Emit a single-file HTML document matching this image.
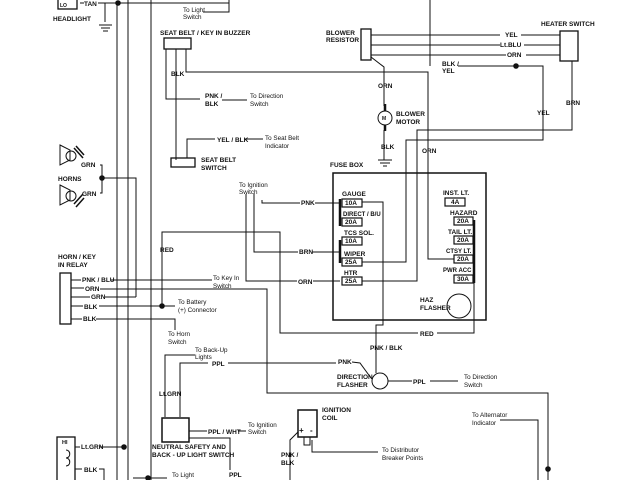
<!DOCTYPE html>
<html><head><meta charset="utf-8"><style>
html,body{margin:0;padding:0;background:#fff;width:640px;height:480px;overflow:hidden}
svg{display:block}
text{font-family:"Liberation Sans",sans-serif;font-size:6.5px;font-weight:bold;fill:#111}
.t{font-weight:normal;font-size:6.3px}
</style></head><body>
<svg width="640" height="480" viewBox="0 0 640 480" xmlns="http://www.w3.org/2000/svg">
<g stroke="#111" stroke-width="1" fill="none">
<rect x="58" y="-4" width="19" height="13" stroke-width="1.3"/>
<path d="M80 3H84M98 3H229V-1"/>
<path d="M203 12H229V0"/>
<path d="M105 3V22"/>
<path d="M99 25H112M101 28H110M103 31H108"/>
<path d="M117 3V480M128 0V480M151 0V480"/>
<path d="M102 178H136V297"/>
<path d="M60 145L70 150V160L60 165Z M60 185L70 190V200L60 205Z"/>
<circle cx="71" cy="156" r="5"/><circle cx="71" cy="196" r="5"/>
<path d="M74 148L83 158M76 146L84 155M74 204L83 194M76 207L84 198" stroke-width="1.5"/>
<path d="M100 165H102V193H100"/>
<rect x="164" y="38" width="27" height="11" stroke-width="1.3"/>
<path d="M166 49V99H200M176 49V160M186 49V72H428V259H454"/>
<path d="M222 100H247"/>
<rect x="171" y="158" width="24" height="9" stroke-width="1.3"/>
<path d="M187 158V139H215M245 139H263"/>
<rect x="361" y="29" width="10" height="31" stroke-width="1.3"/>
<path d="M371 35H500M521 35H560M371 45H500M524 45H560M371 55H506M526 55H560"/>
<rect x="560" y="31" width="18" height="30" stroke-width="1.3"/>
<path d="M371 57L384 67V106M384 130V160"/>
<circle cx="385" cy="118" r="7"/>
<path d="M385 104V111M385 125V131" stroke-width="2.5"/>
<path d="M378 160H392M380 163H390M383 166H387"/>
<path d="M430 0V66M458 66H543V140H406V262H362"/>
<path d="M572 61V130H417V281H362"/>
<rect x="333" y="173" width="153" height="147" stroke-width="1.5"/>
<g stroke-width="1.2">
<rect x="342" y="199" width="20" height="8"/><rect x="342" y="218" width="20" height="8"/>
<rect x="342" y="237" width="20" height="8"/><rect x="342" y="258" width="20" height="8"/>
<rect x="342" y="277" width="20" height="8"/>
<rect x="445" y="198" width="20" height="8"/><rect x="454" y="217" width="19" height="8"/>
<rect x="454" y="236" width="19" height="8"/><rect x="454" y="255" width="19" height="8"/>
<rect x="454" y="275" width="19" height="8"/>
</g>
<path d="M340 199V226M340 240V263M474 220V283" stroke-width="2.5"/>
<path d="M474 283V333H437M418 333H280V232H162V306"/>
<circle cx="459" cy="306" r="12"/>
<path d="M362 202H383V325H376V373"/>
<path d="M262 200V203H300M315 203H340"/>
<path d="M254 194V252H298M312 252H340"/>
<path d="M246 194V281H297M313 281H340"/>
<rect x="60" y="273" width="11" height="51" stroke-width="1.3"/>
<path d="M71 280H81M111 280H212M71 288H84M100 289H267V393H548V480M71 297H90M105 297H136M71 306H83M99 306H175M71 319H82M96 319H175V330"/>
<circle cx="162" cy="306" r="2.3" fill="#111"/>
<circle cx="118" cy="3" r="2.3" fill="#111"/>
<circle cx="102" cy="178" r="2.3" fill="#111"/>
<circle cx="516" cy="66" r="2.3" fill="#111"/>
<circle cx="548" cy="469" r="2.3" fill="#111"/>
<circle cx="124" cy="447" r="2.3" fill="#111"/>
<circle cx="148" cy="478" r="2.3" fill="#111"/>
<path d="M195 355H165V417M180 417V363H208M228 363H336M352 362L360 363L371 378"/>
<circle cx="380" cy="381" r="8"/>
<path d="M388 381H412M430 381H458"/>
<rect x="162" y="418" width="27" height="24" stroke-width="1.5"/>
<path d="M189 431H207M238 431H246M189 438H230V470"/>
<rect x="57" y="437" width="18" height="50" stroke-width="1.3"/>
<path d="M66 450C71 450 71 458 66 458C71 458 71 466 66 466"/>
<path d="M75 447H80M99 447H124M75 469H82M99 469H104V480"/>
<path d="M133 478H167"/>
<rect x="298" y="410" width="19" height="27" stroke-width="1.5"/>
<path d="M304 437V445H310V437M298 432L290 440V480M312 440V452H378"/>
<path d="M500 420H538V480"/>
</g>
<g>
<text x="60" y="7" style="font-size:5px">LO</text>
<text x="84" y="6">TAN</text>
<text x="53" y="21">HEADLIGHT</text>
<text x="183" y="12" class="t">To Light</text><text x="183" y="19" class="t">Switch</text>
<text x="160" y="35">SEAT BELT / KEY IN BUZZER</text>
<text x="171" y="76">BLK</text>
<text x="205" y="98">PNK /</text><text x="205" y="106">BLK</text>
<text x="250" y="98" class="t">To Direction</text><text x="250" y="106" class="t">Switch</text>
<text x="217" y="142">YEL / BLK</text>
<text x="265" y="140" class="t">To Seat Belt</text><text x="265" y="148" class="t">Indicator</text>
<text x="201" y="162">SEAT BELT</text><text x="201" y="170">SWITCH</text>
<text x="81" y="167">GRN</text><text x="58" y="181">HORNS</text><text x="82" y="196">GRN</text>
<text x="239" y="187" class="t">To Ignition</text><text x="239" y="194" class="t">Switch</text>
<text x="326" y="35">BLOWER</text><text x="326" y="42">RESISTOR</text>
<text x="505" y="37">YEL</text><text x="500" y="47">Lt.BLU</text><text x="507" y="57">ORN</text>
<text x="541" y="26">HEATER SWITCH</text>
<text x="442" y="66">BLK /</text><text x="442" y="73">YEL</text>
<text x="378" y="88">ORN</text>
<text x="382" y="120" style="font-size:5px">M</text>
<text x="396" y="116">BLOWER</text><text x="396" y="124">MOTOR</text>
<text x="381" y="149">BLK</text>
<text x="566" y="105">BRN</text><text x="537" y="115">YEL</text>
<text x="422" y="153">ORN</text>
<text x="330" y="167">FUSE BOX</text>
<text x="342" y="196">GAUGE</text><text x="345" y="205">10A</text>
<text x="343" y="216" style="font-size:6px">DIRECT / B/U</text><text x="345" y="224">20A</text>
<text x="344" y="235">TCS SOL.</text><text x="345" y="243">10A</text>
<text x="344" y="256">WIPER</text><text x="345" y="264">25A</text>
<text x="344" y="275">HTR</text><text x="345" y="283">25A</text>
<text x="443" y="195">INST. LT.</text><text x="451" y="204">4A</text>
<text x="450" y="215">HAZARD</text><text x="457" y="223">20A</text>
<text x="448" y="234">TAIL LT.</text><text x="457" y="242">20A</text>
<text x="446" y="253" style="font-size:6px">CTSY LT.</text><text x="457" y="261">20A</text>
<text x="443" y="272" style="font-size:6px">PWR ACC</text><text x="457" y="281">30A</text>
<text x="420" y="302">HAZ</text><text x="420" y="310">FLASHER</text>
<text x="301" y="205">PNK</text><text x="299" y="254">BRN</text><text x="298" y="284">ORN</text>
<text x="160" y="252">RED</text>
<text x="58" y="259">HORN / KEY</text><text x="58" y="267">IN RELAY</text>
<text x="82" y="282">PNK / BLU</text><text x="85" y="291">ORN</text><text x="91" y="299">GRN</text>
<text x="84" y="309">BLK</text><text x="83" y="321">BLK</text>
<text x="213" y="280" class="t">To Key In</text><text x="213" y="288" class="t">Switch</text>
<text x="178" y="304" class="t">To Battery</text><text x="178" y="312" class="t">(+) Connector</text>
<text x="168" y="336" class="t">To Horn</text><text x="168" y="344" class="t">Switch</text>
<text x="195" y="352" class="t">To Back-Up</text><text x="195" y="359" class="t">Lights</text>
<text x="212" y="366">PPL</text>
<text x="338" y="364">PNK</text>
<text x="420" y="336">RED</text>
<text x="370" y="350">PNK / BLK</text>
<text x="337" y="379">DIRECTION</text><text x="337" y="387">FLASHER</text>
<text x="413" y="384">PPL</text>
<text x="464" y="379" class="t">To Direction</text><text x="464" y="387" class="t">Switch</text>
<text x="159" y="396">Lt.GRN</text>
<text x="208" y="434">PPL / WHT</text>
<text x="248" y="427" class="t">To Ignition</text><text x="248" y="434" class="t">Switch</text>
<text x="152" y="449">NEUTRAL SAFETY AND</text><text x="152" y="457">BACK - UP LIGHT SWITCH</text>
<text x="229" y="477">PPL</text>
<text x="172" y="477" class="t">To Light</text>
<text x="62" y="444" style="font-size:5.5px">HI</text>
<text x="81" y="449">Lt.GRN</text><text x="84" y="472">BLK</text>
<text x="322" y="412">IGNITION</text><text x="322" y="420">COIL</text>
<text x="299" y="433" style="font-size:8px">+</text><text x="310" y="433" style="font-size:8px">-</text>
<text x="281" y="457">PNK /</text><text x="281" y="465">BLK</text>
<text x="382" y="452" class="t">To Distributor</text><text x="382" y="460" class="t">Breaker Points</text>
<text x="472" y="417" class="t">To Alternator</text><text x="472" y="425" class="t">Indicator</text>
</g>
</svg>
</body></html>
